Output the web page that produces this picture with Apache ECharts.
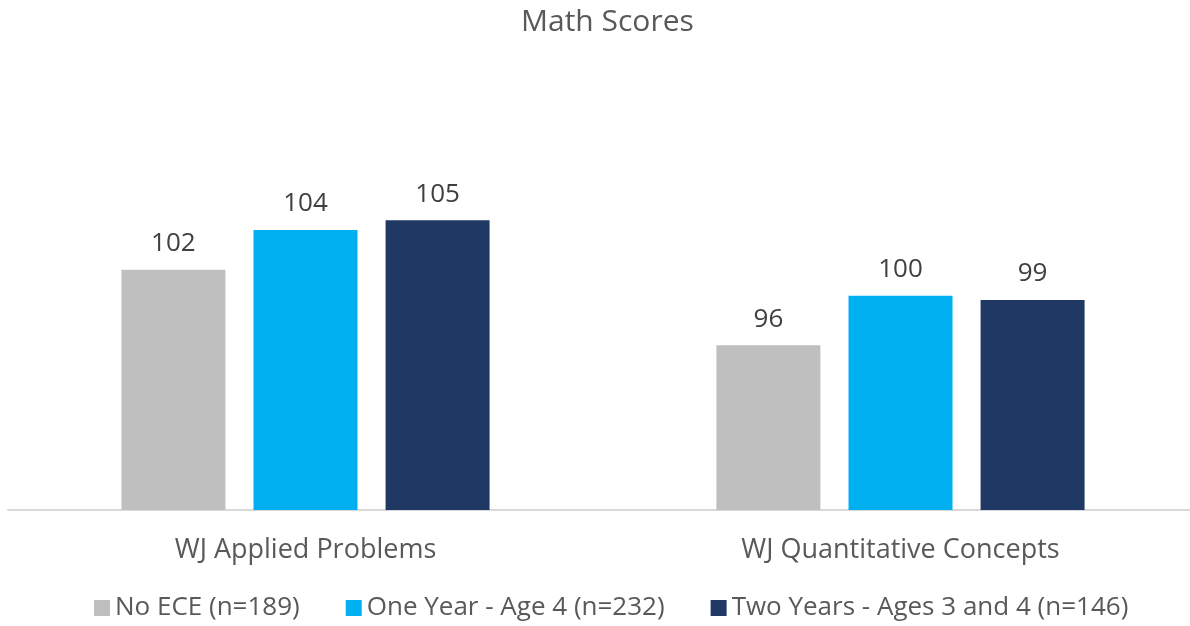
<!DOCTYPE html>
<html>
<head>
<meta charset="utf-8">
<script src="https://cdn.jsdelivr.net/npm/echarts@6/dist/echarts.min.js"></script>
<style>
  html, body { margin: 0; padding: 0; background: #fff; overflow: hidden; }
  #main { width: 1190px; height: 626px; }
</style>
</head>
<body>
<div id="main"></div>
<script>
// data (labels shown rounded)
const categories = ['WJ Applied Problems', 'WJ Quantitative Concepts']
const seriesNames = ['No ECE (n=189)', 'One Year - Age 4 (n=232)', 'Two Years - Ages 3 and 4 (n=146)']
const noEce = [101.5, 96.0]
const oneYear = [104.4, 99.6]
const twoYears = [105.1, 99.3]
const colors = ['#BFBFBF', '#00B0F0', '#203864']

const font = 'Open Sans'
const myChart = echarts.init(document.getElementById('main'))

function makeSeries(name, data, color) {
    return {
        name: name,
        type: 'bar',
        data: data,
        barWidth: 104,
        barGap: '27%',
        itemStyle: { color: color },
        label: {
            show: true,
            position: 'top',
            distance: 13,
            color: '#404040',
            fontFamily: font,
            fontSize: 26,
            formatter: (p) => Math.round(p.value)
        }
    }
}

myChart.setOption({
    animation: false,
    title: {
        text: 'Math Scores',
        left: 516,
        top: 2,
        textStyle: { color: '#595959', fontFamily: font, fontSize: 30, fontWeight: 'normal' }
    },
    legend: {
        bottom: 0,
        left: 89,
        icon: 'rect',
        itemWidth: 16,
        itemHeight: 16,
        itemGap: 46,
        textStyle: { color: '#595959', fontFamily: font, fontSize: 26 },
        data: seriesNames
    },
    grid: { left: 8, width: 1190, top: 153, bottom: 116, outerBoundsMode: 'none', containLabel: false },
    xAxis: {
        type: 'category',
        data: categories,
        axisLine: { lineStyle: { color: '#D9D9D9', width: 2 } },
        axisTick: { show: false },
        axisLabel: { color: '#595959', fontFamily: font, fontSize: 27, margin: 27 }
    },
    yAxis: {
        type: 'value',
        min: 84,
        max: 110,
        show: false,
        splitLine: { show: false }
    },
    series: [
        makeSeries(seriesNames[0], noEce, colors[0]),
        makeSeries(seriesNames[1], oneYear, colors[1]),
        makeSeries(seriesNames[2], twoYears, colors[2])
    ]
})
</script>
</body>
</html>
